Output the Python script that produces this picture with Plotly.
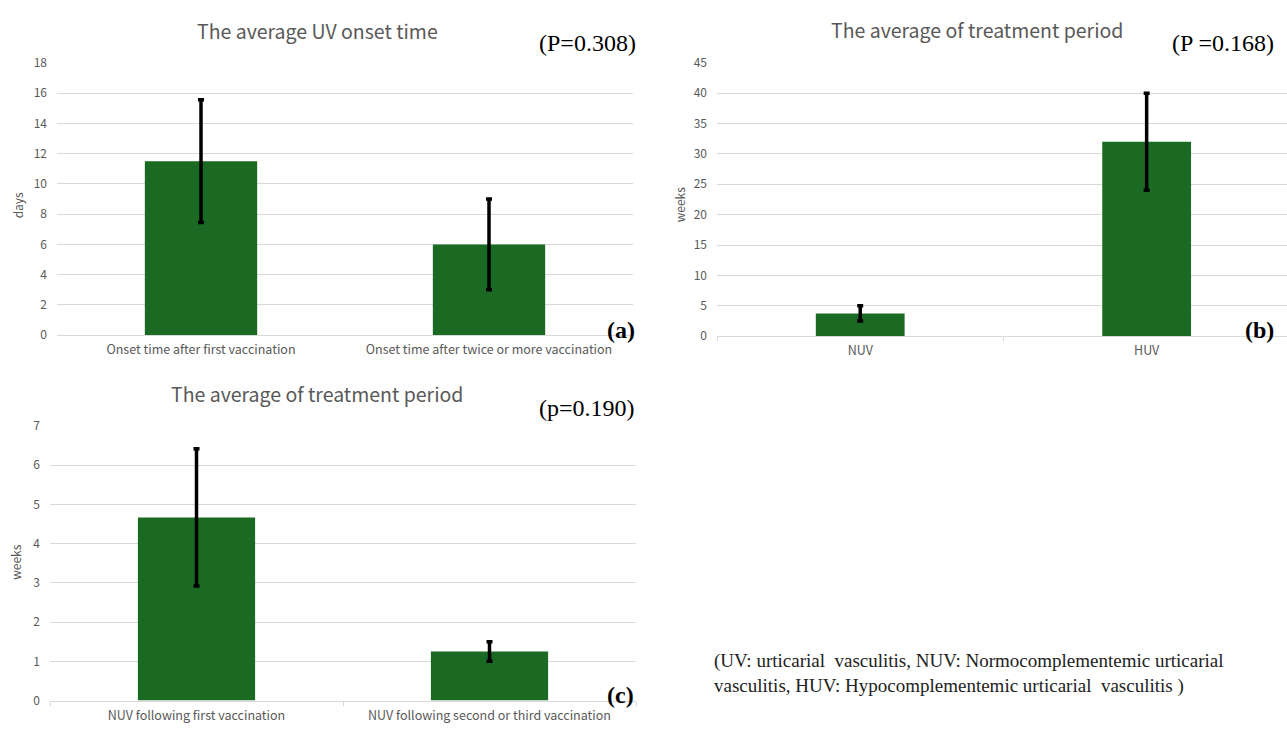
import plotly.graph_objects as go

W, H = 1287, 730

# ---- data ----
cats_a = ["Onset time after first vaccination", "Onset time after twice or more vaccination"]
vals_a = [11.5, 6.0]
err_a = [4.05, 3.0]

cats_b = ["NUV", "HUV"]
vals_b = [3.75, 32.0]
err_b = [1.25, 8.0]

cats_c = ["NUV following first vaccination", "NUV following second or third vaccination"]
vals_c = [4.67, 1.25]
err_c = [1.75, 0.25]

titles = ["The average UV onset time", "The average of treatment period", "The average of treatment period"]
pvals = ["(P=0.308)", "(P =0.168)", "(p=0.190)"]
panel_tags = ["(a)", "(b)", "(c)"]
ytitles = ["days", "weeks", "weeks"]
footnote = "(UV: urticarial  vasculitis, NUV: Normocomplementemic urticarial<br>vasculitis, HUV: Hypocomplementemic urticarial  vasculitis )"

GREEN = "#1b6a24"
GRID = "#d9d9d9"
TXT = "#595959"
SANS = "Noto Sans CJK JP, Noto Sans, sans-serif"
SERIF = "Liberation Serif, Times New Roman, serif"


def px_x(p):
    return p / W


def px_y(p):
    return 1 - p / H


fig = go.Figure()

panels = [
    dict(cats=cats_a, vals=vals_a, err=err_a, width=0.39, x="x", y="y"),
    dict(cats=cats_b, vals=vals_b, err=err_b, width=0.31, x="x2", y="y2"),
    dict(cats=cats_c, vals=vals_c, err=err_c, width=0.40, x="x3", y="y3"),
]
for p in panels:
    fig.add_trace(go.Bar(
        x=p["cats"], y=p["vals"], width=p["width"],
        marker=dict(color=GREEN, line=dict(width=0)),
        error_y=dict(type="data", array=p["err"], visible=True,
                     color="black", thickness=3.5, width=3),
        xaxis=p["x"], yaxis=p["y"], showlegend=False,
    ))

geo = [(57, 633, 54, 333), (717, 1287, 54, 334), (50, 636, 426, 707)]
yranges = [(0, 18, 2), (0, 45, 5), (0, 7, 1)]
xranges = [[-0.5, 1.5], [-0.5, 1.49], [-0.5, 1.5]]

for i, (g, yr, xr) in enumerate(zip(geo, yranges, xranges)):
    sfx = "" if i == 0 else str(i + 1)
    x0, x1, yt, yb = g
    fig.update_layout(**{
        "xaxis" + sfx: dict(
            domain=[px_x(x0), px_x(x1)], anchor="y" + sfx, range=xr,
            showgrid=False, showline=True, linecolor=GRID, linewidth=1,
            ticks="outside" if i > 0 else "", tickson="boundaries", ticklen=4, tickcolor=GRID,
            tickfont=dict(family=SANS, size=12.5, color=TXT),
            ticklabelstandoff=3, fixedrange=True,
        ),
        "yaxis" + sfx: dict(
            domain=[px_y(yb), px_y(yt)], anchor="x" + sfx, range=[yr[0], yr[1]],
            dtick=yr[2], showgrid=True, gridcolor=GRID, gridwidth=1,
            zeroline=False, showline=False, ticks="",
            tickfont=dict(family=SANS, size=12, color=TXT),
            ticklabelstandoff=9, fixedrange=True,
        ),
    })

ann = []
title_pos = [(317, 21), (977, 20), (317, 393)]
for t, (cx, cy) in zip(titles, title_pos):
    ann.append(dict(text=t, x=px_x(cx), y=px_y(cy), xref="paper", yref="paper",
                    showarrow=False, xanchor="center", yanchor="middle",
                    font=dict(family=SANS, size=19.5, color=TXT)))
p_pos = [(638, 34), (1276, 34), (637, 407)]
for t, (rx, cy) in zip(pvals, p_pos):
    ann.append(dict(text=t, x=px_x(rx), y=px_y(cy), xref="paper", yref="paper",
                    showarrow=False, xanchor="right", yanchor="middle",
                    font=dict(family=SERIF, size=24, color="black")))
tag_pos = [(637, 328), (1276, 328), (636, 701)]
for t, (rx, cy) in zip(panel_tags, tag_pos):
    ann.append(dict(text="<b>" + t + "</b>", x=px_x(rx), y=px_y(cy), xref="paper", yref="paper",
                    showarrow=False, xanchor="right", yanchor="middle",
                    font=dict(family=SERIF, size=24, color="black")))
yt_pos = [(17, 200), (679, 200), (16, 566)]
for t, (cx, cy) in zip(ytitles, yt_pos):
    ann.append(dict(text=t, x=px_x(cx), y=px_y(cy), xref="paper", yref="paper",
                    showarrow=False, xanchor="center", yanchor="middle", textangle=-90,
                    font=dict(family=SANS, size=12, color=TXT)))
ann.append(dict(text=footnote, x=px_x(712), y=px_y(679), xref="paper", yref="paper",
                showarrow=False, xanchor="left", yanchor="middle", align="left",
                font=dict(family=SERIF, size=19, color="#222222")))

fig.update_layout(
    width=W, height=H, margin=dict(l=0, r=0, t=0, b=0),
    paper_bgcolor="white", plot_bgcolor="white",
    annotations=ann, bargap=0.2,
)

fig.write_html(
    "out.html",
    config={"displayModeBar": False},
    post_script="document.body.style.margin='0';document.body.style.padding='0';",
)
